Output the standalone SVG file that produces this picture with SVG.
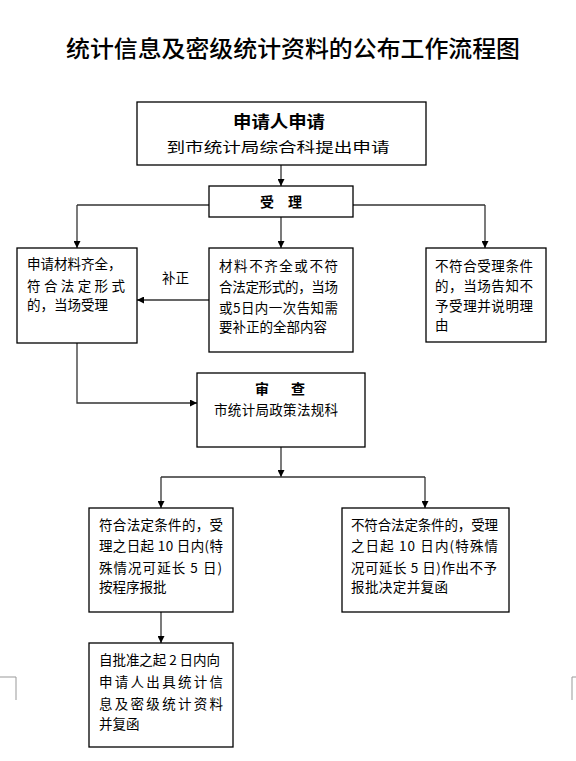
<svg xmlns="http://www.w3.org/2000/svg" width="576" height="761" viewBox="0 0 576 761">
<style>
.box{fill:#fff;stroke:#000;stroke-width:1.3}
.t{font-family:"Noto Sans CJK SC","Liberation Sans",sans-serif;font-size:13.5px;fill:#000}
.b{font-family:"Noto Sans CJK SC","Liberation Sans",sans-serif;font-weight:bold;fill:#000}
.c{fill:none;stroke:#333;stroke-width:1.3}
.mark{fill:none;stroke:#999;stroke-width:1}
</style>
<defs>
<marker id="ah" viewBox="0 0 10 10" refX="10" refY="5" markerWidth="7" markerHeight="7" markerUnits="userSpaceOnUse" orient="auto">
<path d="M0,0 L10,5 L0,10 Z" fill="#000"/>
</marker>
</defs>
<rect width="576" height="761" fill="#fff"/>
<text class="b" x="293" y="57" font-size="23" font-weight="500" style="font-weight:500" text-anchor="middle" textLength="454" lengthAdjust="spacingAndGlyphs">统计信息及密级统计资料的公布工作流程图</text>

<g id="connectors">
<line class="c" x1="281" y1="165" x2="281" y2="186" marker-end="url(#ah)"/>
<line class="c" x1="77" y1="205" x2="209" y2="205"/>
<line class="c" x1="353" y1="205" x2="485" y2="205"/>
<line class="c" x1="77" y1="205" x2="77" y2="248" marker-end="url(#ah)"/>
<line class="c" x1="281" y1="217" x2="281" y2="248" marker-end="url(#ah)"/>
<line class="c" x1="485" y1="205" x2="485" y2="248" marker-end="url(#ah)"/>
<line class="c" x1="209" y1="300" x2="137" y2="300" marker-end="url(#ah)"/>
<polyline class="c" points="77,343 77,403 197,403" marker-end="url(#ah)"/>
<line class="c" x1="281" y1="447" x2="281" y2="477" marker-end="url(#ah)"/>
<line class="c" x1="161" y1="477" x2="425" y2="477"/>
<line class="c" x1="161" y1="477" x2="161" y2="508" marker-end="url(#ah)"/>
<line class="c" x1="425" y1="477" x2="425" y2="508" marker-end="url(#ah)"/>
<line class="c" x1="161" y1="612" x2="161" y2="643" marker-end="url(#ah)"/>
<text class="t" x="162" y="283" font-size="14">补正</text>
</g>

<g id="apply">
<rect class="box" x="137" y="102" width="289" height="63"/>
<text class="b" x="279" y="128" font-size="17" text-anchor="middle" textLength="92" lengthAdjust="spacingAndGlyphs">申请人申请</text>
<text class="t" x="278" y="152" font-size="17" text-anchor="middle" textLength="223" lengthAdjust="spacingAndGlyphs">到市统计局综合科提出申请</text>
</g>

<g id="accept">
<rect class="box" x="209" y="186" width="144" height="31"/>
<text class="b" x="281" y="207" font-size="14" text-anchor="middle" textLength="42" lengthAdjust="spacing">受理</text>
</g>

<g id="complete">
<rect class="box" x="17" y="248" width="120" height="95"/>
<text class="t" x="27" y="269">申请材料齐全，</text>
<text class="t" x="27" y="291" textLength="98" lengthAdjust="spacing">符合法定形式</text>
<text class="t" x="27" y="310">的，当场受理</text>
</g>

<g id="incomplete">
<rect class="box" x="209" y="248" width="144" height="104"/>
<text class="t" x="219" y="271" textLength="119" lengthAdjust="spacing">材料不齐全或不符</text>
<text class="t" x="219" y="292" textLength="119" lengthAdjust="spacing">合法定形式的，当场</text>
<text class="t" x="219" y="313" textLength="119" lengthAdjust="spacing">或5日内一次告知需</text>
<text class="t" x="219" y="332">要补正的全部内容</text>
</g>

<g id="reject">
<rect class="box" x="426" y="248" width="120" height="94"/>
<text class="t" x="435" y="271" textLength="98" lengthAdjust="spacing">不符合受理条件</text>
<text class="t" x="435" y="291" textLength="98" lengthAdjust="spacing">的，当场告知不</text>
<text class="t" x="435" y="311" textLength="98" lengthAdjust="spacing">予受理并说明理</text>
<text class="t" x="435" y="330">由</text>
</g>

<g id="review">
<rect class="box" x="197" y="373" width="168" height="74"/>
<text class="b" x="280" y="394" font-size="14" text-anchor="middle" textLength="50" lengthAdjust="spacing">审查</text>
<text class="t" x="214" y="415" textLength="124" lengthAdjust="spacing">市统计局政策法规科</text>
</g>

<g id="approve">
<rect class="box" x="89" y="508" width="144" height="104"/>
<text class="t" x="99" y="530" textLength="124" lengthAdjust="spacing">符合法定条件的，受</text>
<text class="t" x="99" y="551" textLength="124" lengthAdjust="spacing">理之日起 10 日内(特</text>
<text class="t" x="99" y="573" textLength="123" lengthAdjust="spacing">殊情况可延长 5 日)</text>
<text class="t" x="99" y="592">按程序报批</text>
</g>

<g id="deny">
<rect class="box" x="342" y="508" width="167" height="104"/>
<text class="t" x="351" y="530" textLength="147" lengthAdjust="spacing">不符合法定条件的，受理</text>
<text class="t" x="351" y="551" textLength="147" lengthAdjust="spacing">之日起  10  日内(特殊情</text>
<text class="t" x="351" y="573" textLength="146" lengthAdjust="spacing">况可延长 5 日)作出不予</text>
<text class="t" x="351" y="592" textLength="97" lengthAdjust="spacing">报批决定并复函</text>
</g>

<g id="issue">
<rect class="box" x="89" y="643" width="144" height="104"/>
<text class="t" x="99" y="665" textLength="121" lengthAdjust="spacing">自批准之起 2 日内向</text>
<text class="t" x="99" y="687" textLength="124" lengthAdjust="spacing">申请人出具统计信</text>
<text class="t" x="99" y="709" textLength="124" lengthAdjust="spacing">息及密级统计资料</text>
<text class="t" x="99" y="729">并复函</text>
</g>

<polyline class="mark" points="0,677 16,677 16,700"/>
<polyline class="mark" points="576,677 572,677 572,700"/>
</svg>
